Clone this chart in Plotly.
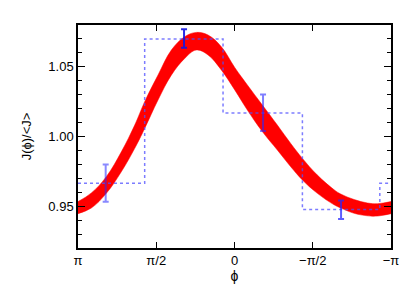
import math
import plotly.graph_objects as go

PI = math.pi

# Model band (upper / lower edges)
phi_band = [3.1416, 2.874, 2.573, 2.272, 2.003, 1.803, 1.535, 1.268, 1.000, 0.766, 0.531, 0.264,
            -0.005, -0.258, -0.559, -0.860, -1.129, -1.363, -1.664, -1.999, -2.133, -2.401,
            -2.668, -2.869, -3.1416]
band_upper = [0.9533, 0.9595, 0.9712, 0.989, 1.0082, 1.025, 1.0441, 1.062, 1.0716, 1.0747, 1.0728,
              1.0644, 1.0495, 1.037, 1.0226, 1.0082, 0.995, 0.9843, 0.9723, 0.9618, 0.9587,
              0.9548, 0.9523, 0.9518, 0.9533]
band_lower = [0.9446, 0.9487, 0.9592, 0.9747, 0.9915, 1.0058, 1.0262, 1.044, 1.056, 1.062, 1.0585,
              1.0477, 1.0334, 1.019, 1.0035, 0.9903, 0.9783, 0.9688, 0.9592, 0.9510, 0.9487,
              0.9449, 0.9431, 0.9429, 0.9446]

# Binned histogram (step)
bin_edges = [3.1416, 1.803, 0.230, -1.363, -2.917, -3.1416]
bin_values = [0.9664, 1.070, 1.0168, 0.9477, 0.9664]

# Data points with error bars
pt_phi = [2.586, 1.013, -0.573, -2.139]
pt_val = [0.9666, 1.0703, 1.017, 0.9474]
pt_err = [0.0134, 0.0066, 0.0131, 0.0066]

# Axis ticks
x_tickvals = [PI, PI / 2, 0, -PI / 2, -PI]
x_ticktext = ["π", "π/2", "0", "−π/2", "−π"]
y_tickvals = [0.95, 1.00, 1.05]
y_ticktext = ["0.95", "1.00", "1.05"]

pt_colors = ["rgba(40,40,255,0.55)", "rgba(20,20,225,0.9)", "rgba(40,40,255,0.6)", "rgba(40,40,255,0.75)"]

fig = go.Figure()

fig.add_trace(go.Scatter(x=phi_band, y=band_lower, mode="lines",
                         line=dict(color="red", width=0.5, shape="spline", smoothing=1.1),
                         hoverinfo="skip", showlegend=False))
fig.add_trace(go.Scatter(x=phi_band, y=band_upper, mode="lines",
                         line=dict(color="red", width=0.5, shape="spline", smoothing=1.1),
                         fill="tonexty", fillcolor="red", hoverinfo="skip", showlegend=False))

fig.add_trace(go.Scatter(x=bin_edges, y=bin_values + [bin_values[-1]], mode="lines",
                         line=dict(color="rgba(80,80,255,0.75)", width=1.5, dash="dot", shape="hv"),
                         showlegend=False))

for p, v, e, c in zip(pt_phi, pt_val, pt_err, pt_colors):
    fig.add_trace(go.Scatter(x=[p], y=[v], mode="markers", marker=dict(size=0.1, color=c),
                             error_y=dict(type="data", array=[e], color=c, thickness=2, width=3),
                             showlegend=False))

font = "Liberation Sans, Arial, Helvetica, sans-serif"

fig.update_layout(
    width=415, height=297,
    margin=dict(l=70, r=32, t=17, b=57),
    paper_bgcolor="white", plot_bgcolor="white",
    font=dict(family=font, size=13, color="black"),
    xaxis=dict(range=[PI, -PI], tickvals=x_tickvals, ticktext=x_ticktext, automargin=False,
               ticks="inside", ticklen=6, tickwidth=1.2, tickcolor="black",
               showline=True, linecolor="black", linewidth=1.5, mirror="allticks",
               showgrid=False, zeroline=False,
               title=dict(text="ϕ", standoff=2, font=dict(size=14)),
               tickfont=dict(size=13)),
    yaxis=dict(range=[0.92, 1.08], tickvals=y_tickvals, ticktext=y_ticktext, automargin=False,
               ticks="inside", ticklen=7, tickwidth=1.2, tickcolor="black",
               showline=True, linecolor="black", linewidth=1.5, mirror="allticks",
               showgrid=False, zeroline=False,
               minor=dict(dtick=0.01, ticks="inside", ticklen=4, tickwidth=1, tickcolor="black", showgrid=False),
               title=dict(text="J(ϕ)/&lt;J&gt;", standoff=14, font=dict(size=13)),
               tickfont=dict(size=13)),
)

fig.write_html("out.html")
